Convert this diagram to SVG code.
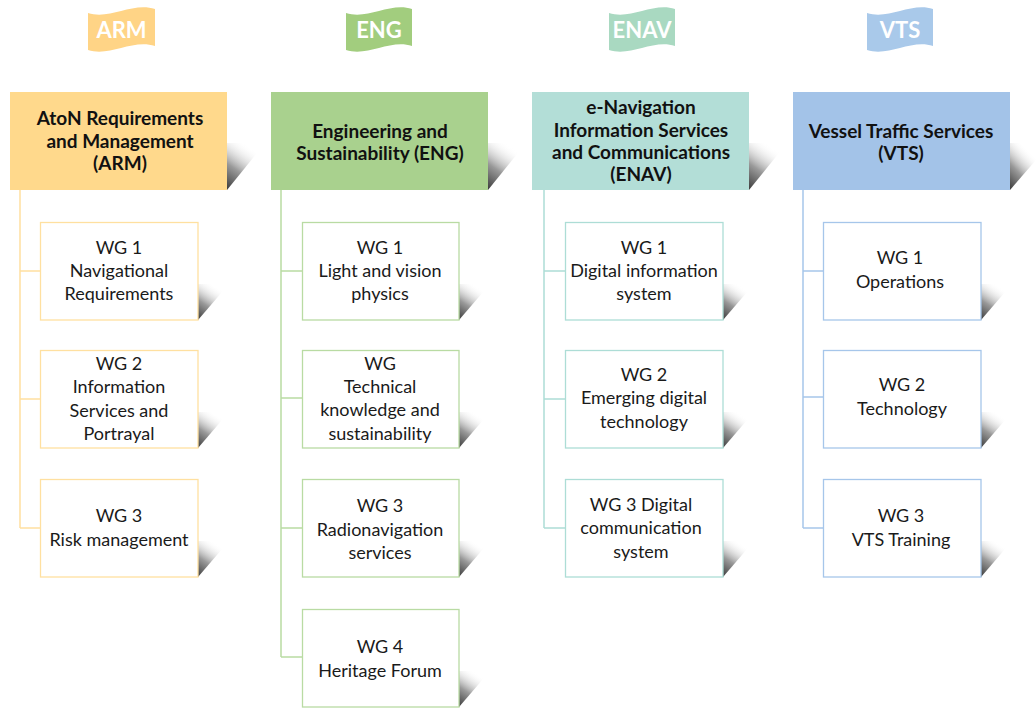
<svg xmlns="http://www.w3.org/2000/svg" width="1036" height="708" viewBox="0 0 1036 708">
<defs>
<linearGradient id="sh" x1="0" y1="1" x2="0.55" y2="0.05">
<stop offset="0" stop-color="#3a3a3a"/>
<stop offset="0.45" stop-color="#9a9a9a"/>
<stop offset="1" stop-color="#ffffff" stop-opacity="0"/>
</linearGradient>
<style>
.hd{font-family:Lato,"Open Sans",sans-serif;font-weight:bold;font-size:19px;fill:#111;text-anchor:middle}
.wg{font-family:Lato,"Open Sans",sans-serif;font-size:18px;fill:#1a1a1a;text-anchor:middle}
.fl{font-family:Lato,"Open Sans",sans-serif;font-weight:bold;font-size:22px;fill:#fff;text-anchor:middle}
.ch{fill:#fff;stroke-width:1.3}
.a{stroke:#FFE0A0}
.b{stroke:#B9DBA3}
.c{stroke:#ADDDD6}
.d{stroke:#A6C6EA}
.shd{fill:url(#sh)}
.ln{fill:none;stroke-width:1.5}
</style>
</defs>
<rect width="1036" height="708" fill="#fff"/>

<!-- flags -->
<g id="flag-arm">
<path d="M88,13 C110,20 132,2 155,9 L155,46 C132,39 110,57 88,50 Z" fill="#FFD486"/>
<text class="fl" x="121.5" y="38">ARM</text>
</g>
<g id="flag-eng">
<path d="M346,13 C368,20 390,2 412,9 L412,46 C390,39 368,57 346,50 Z" fill="#A2CD7E"/>
<text class="fl" x="379" y="38">ENG</text>
</g>
<g id="flag-enav">
<path d="M609,13 C631,20 653,2 675,9 L675,46 C653,39 631,57 609,50 Z" fill="#A9D9C1"/>
<text class="fl" x="642" y="38">ENAV</text>
</g>
<g id="flag-vts">
<path d="M867,13 C889,20 911,2 933,9 L933,46 C911,39 889,57 867,50 Z" fill="#A9C9EA"/>
<text class="fl" x="900" y="38">VTS</text>
</g>

<!-- connectors -->
<g id="connectors">
<path class="ln a" d="M20,190 V528 M20,271 H40 M20,399 H40 M20,528 H40"/>
<path class="ln b" d="M281,190 V657 M281,271 H302 M281,398 H302 M281,528 H302 M281,657 H302"/>
<path class="ln c" d="M544,190 V528 M544,271 H565 M544,399 H565 M544,528 H565"/>
<path class="ln d" d="M803,190 V528 M803,271 H823 M803,397 H823 M803,528 H823"/>
</g>

<!-- headers -->
<g id="hdr-arm">
<polygon class="shd" points="227,143 265,143 227,190"/>
<rect x="10" y="92" width="217" height="98" fill="#FFD98C"/>
<text class="hd"><tspan x="120" y="125">AtoN Requirements</tspan><tspan x="120" y="148">and Management</tspan><tspan x="120" y="170">(ARM)</tspan></text>
</g>
<g id="hdr-eng">
<polygon class="shd" points="488,143 526,143 488,190"/>
<rect x="271" y="92" width="217" height="98" fill="#A9D18E"/>
<text class="hd"><tspan x="380" y="138">Engineering and</tspan><tspan x="380" y="160">Sustainability (ENG)</tspan></text>
</g>
<g id="hdr-enav">
<polygon class="shd" points="749,143 787,143 749,190"/>
<rect x="532" y="92" width="217" height="98" fill="#B3DED7"/>
<text class="hd"><tspan x="641" y="114">e-Navigation</tspan><tspan x="641" y="137">Information Services</tspan><tspan x="641" y="159">and Communications</tspan><tspan x="641" y="181">(ENAV)</tspan></text>
</g>
<g id="hdr-vts">
<polygon class="shd" points="1010,143 1036,143 1036,160 1010,190"/>
<rect x="793" y="92" width="217" height="98" fill="#A3C3E8"/>
<text class="hd"><tspan x="901" y="138">Vessel Traffic Services</tspan><tspan x="901" y="160">(VTS)</tspan></text>
</g>

<!-- ARM children -->
<g id="arm-wg1">
<polygon class="shd" points="198,284 229,284 198,320"/>
<rect class="ch a" x="40.5" y="222.5" width="157.5" height="97.5"/>
<text class="wg"><tspan x="119" y="254">WG 1</tspan><tspan x="119" y="277">Navigational</tspan><tspan x="119" y="300">Requirements</tspan></text>
</g>
<g id="arm-wg2">
<polygon class="shd" points="198,412 229,412 198,448"/>
<rect class="ch a" x="40.5" y="350.5" width="157.5" height="97.5"/>
<text class="wg"><tspan x="119" y="370">WG 2</tspan><tspan x="119" y="393">Information</tspan><tspan x="119" y="417">Services and</tspan><tspan x="119" y="440">Portrayal</tspan></text>
</g>
<g id="arm-wg3">
<polygon class="shd" points="198,541 229,541 198,577"/>
<rect class="ch a" x="40.5" y="479.5" width="157.5" height="97.5"/>
<text class="wg"><tspan x="119" y="522">WG 3</tspan><tspan x="119" y="546">Risk management</tspan></text>
</g>

<!-- ENG children -->
<g id="eng-wg1">
<polygon class="shd" points="459,284 490,284 459,320"/>
<rect class="ch b" x="302.5" y="222.5" width="156.5" height="97.5"/>
<text class="wg"><tspan x="380" y="254">WG 1</tspan><tspan x="380" y="277">Light and vision</tspan><tspan x="380" y="300">physics</tspan></text>
</g>
<g id="eng-wg">
<polygon class="shd" points="459,412 490,412 459,448"/>
<rect class="ch b" x="302.5" y="350.5" width="156.5" height="97.5"/>
<text class="wg"><tspan x="380" y="370">WG</tspan><tspan x="380" y="393">Technical</tspan><tspan x="380" y="416">knowledge and</tspan><tspan x="380" y="440">sustainability</tspan></text>
</g>
<g id="eng-wg3">
<polygon class="shd" points="459,541 490,541 459,577"/>
<rect class="ch b" x="302.5" y="479.5" width="156.5" height="97.5"/>
<text class="wg"><tspan x="380" y="512">WG 3</tspan><tspan x="380" y="536">Radionavigation</tspan><tspan x="380" y="559">services</tspan></text>
</g>
<g id="eng-wg4">
<polygon class="shd" points="459,671 490,671 459,707"/>
<rect class="ch b" x="302.5" y="609.5" width="156.5" height="97.5"/>
<text class="wg"><tspan x="380" y="653">WG 4</tspan><tspan x="380" y="677">Heritage Forum</tspan></text>
</g>

<!-- ENAV children -->
<g id="enav-wg1">
<polygon class="shd" points="723,284 754,284 723,320"/>
<rect class="ch c" x="565.5" y="222.5" width="157.5" height="97.5"/>
<text class="wg"><tspan x="644" y="254">WG 1</tspan><tspan x="644" y="277">Digital information</tspan><tspan x="644" y="300">system</tspan></text>
</g>
<g id="enav-wg2">
<polygon class="shd" points="723,412 754,412 723,448"/>
<rect class="ch c" x="565.5" y="350.5" width="157.5" height="97.5"/>
<text class="wg"><tspan x="644" y="381">WG 2</tspan><tspan x="644" y="404">Emerging digital</tspan><tspan x="644" y="428">technology</tspan></text>
</g>
<g id="enav-wg3">
<polygon class="shd" points="723,541 754,541 723,577"/>
<rect class="ch c" x="565.5" y="479.5" width="157.5" height="97.5"/>
<text class="wg"><tspan x="641" y="511">WG 3 Digital</tspan><tspan x="641" y="534">communication</tspan><tspan x="641" y="558">system</tspan></text>
</g>

<!-- VTS children -->
<g id="vts-wg1">
<polygon class="shd" points="981,284 1012,284 981,320"/>
<rect class="ch d" x="823.5" y="222.5" width="157.5" height="97.5"/>
<text class="wg"><tspan x="900" y="264">WG 1</tspan><tspan x="900" y="288">Operations</tspan></text>
</g>
<g id="vts-wg2">
<polygon class="shd" points="981,412 1012,412 981,448"/>
<rect class="ch d" x="823.5" y="350.5" width="157.5" height="97.5"/>
<text class="wg"><tspan x="902" y="391">WG 2</tspan><tspan x="902" y="415">Technology</tspan></text>
</g>
<g id="vts-wg3">
<polygon class="shd" points="981,541 1012,541 981,577"/>
<rect class="ch d" x="823.5" y="479.5" width="157.5" height="97.5"/>
<text class="wg"><tspan x="901" y="522">WG 3</tspan><tspan x="901" y="546">VTS Training</tspan></text>
</g>
</svg>
